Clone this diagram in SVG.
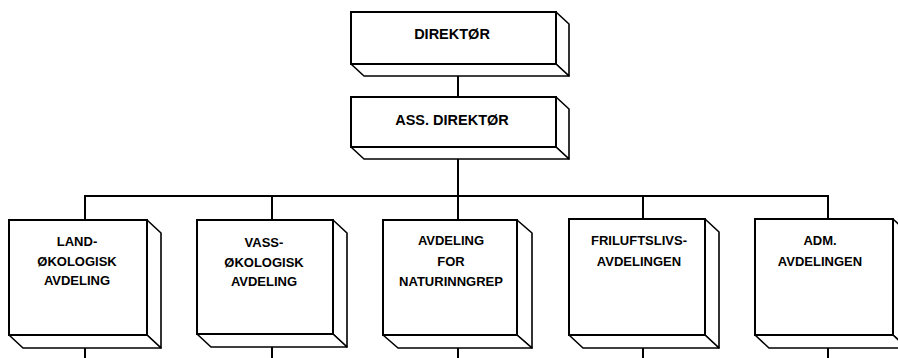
<svg xmlns="http://www.w3.org/2000/svg" width="898" height="358" viewBox="0 0 898 358">
<style>
.front{fill:#fff;stroke:#000;stroke-width:2}
.face{fill:#fff;stroke:#000;stroke-width:1.6;stroke-linejoin:round}
.conn{fill:none;stroke:#000;stroke-width:2}
text{font-family:"Liberation Sans",Arial,sans-serif;font-weight:bold;fill:#000;text-anchor:middle}
.t1{font-size:14.5px}
.t2{font-size:13px}
</style>
<rect width="898" height="358" fill="#fff"/>
<g id="connectors">
<line class="conn" x1="458" y1="70" x2="458" y2="97"/>
<line class="conn" x1="458" y1="155" x2="458" y2="220"/>
<polyline class="conn" points="85,220 85,196 828,196 828,219"/>
<line class="conn" x1="272" y1="196" x2="272" y2="220"/>
<line class="conn" x1="643" y1="196" x2="643" y2="219"/>
<line class="conn" x1="85" y1="340" x2="85" y2="358"/>
<line class="conn" x1="272" y1="340" x2="272" y2="358"/>
<line class="conn" x1="458" y1="340" x2="458" y2="358"/>
<line class="conn" x1="643" y1="340" x2="643" y2="358"/>
<line class="conn" x1="828" y1="341" x2="828" y2="358"/>
</g>
<g id="direktor">
<polygon class="face" points="556,12 569,24 569,76 556,64"/>
<polygon class="face" points="351,64 364,76 569,76 556,64"/>
<rect class="front" x="351" y="12" width="205" height="52"/>
<text class="t1" x="452" y="39">DIREKTØR</text>
</g>
<g id="ass-direktor">
<polygon class="face" points="556,97 569,109 569,159 556,147"/>
<polygon class="face" points="351,147 364,159 569,159 556,147"/>
<rect class="front" x="351" y="97" width="205" height="50"/>
<text class="t1" x="452" y="125">ASS. DIREKTØR</text>
</g>
<g id="landokologisk">
<polygon class="face" points="147,220 161,233 161,348 147,335"/>
<polygon class="face" points="9,335 23,348 161,348 147,335"/>
<rect class="front" x="9" y="220" width="138" height="115"/>
<text class="t2" x="77" y="246">LAND-</text>
<text class="t2" x="77" y="266">ØKOLOGISK</text>
<text class="t2" x="77" y="285">AVDELING</text>
</g>
<g id="vassokologisk">
<polygon class="face" points="333,220 347,233 347,347 333,334"/>
<polygon class="face" points="197,334 211,347 347,347 333,334"/>
<rect class="front" x="197" y="220" width="136" height="114"/>
<text class="t2" x="264" y="247">VASS-</text>
<text class="t2" x="264" y="267">ØKOLOGISK</text>
<text class="t2" x="264" y="286">AVDELING</text>
</g>
<g id="naturinngrep">
<polygon class="face" points="517,220 532,233 532,348 517,335"/>
<polygon class="face" points="383,335 398,348 532,348 517,335"/>
<rect class="front" x="383" y="220" width="134" height="115"/>
<text class="t2" x="451" y="245">AVDELING</text>
<text class="t2" x="451" y="266">FOR</text>
<text class="t2" x="451" y="286">NATURINNGREP</text>
</g>
<g id="friluftsliv">
<polygon class="face" points="705,219 719,232 719,348 705,335"/>
<polygon class="face" points="569,335 583,348 719,348 705,335"/>
<rect class="front" x="569" y="219" width="136" height="116"/>
<text class="t2" x="639" y="245">FRILUFTSLIVS-</text>
<text class="t2" x="639" y="266">AVDELINGEN</text>
</g>
<g id="adm">
<polygon class="face" points="893,219 907,232 907,348 893,335"/>
<polygon class="face" points="755,335 769,348 907,348 893,335"/>
<rect class="front" x="755" y="219" width="138" height="116"/>
<text class="t2" x="820" y="245">ADM.</text>
<text class="t2" x="820" y="266">AVDELINGEN</text>
</g>
</svg>
